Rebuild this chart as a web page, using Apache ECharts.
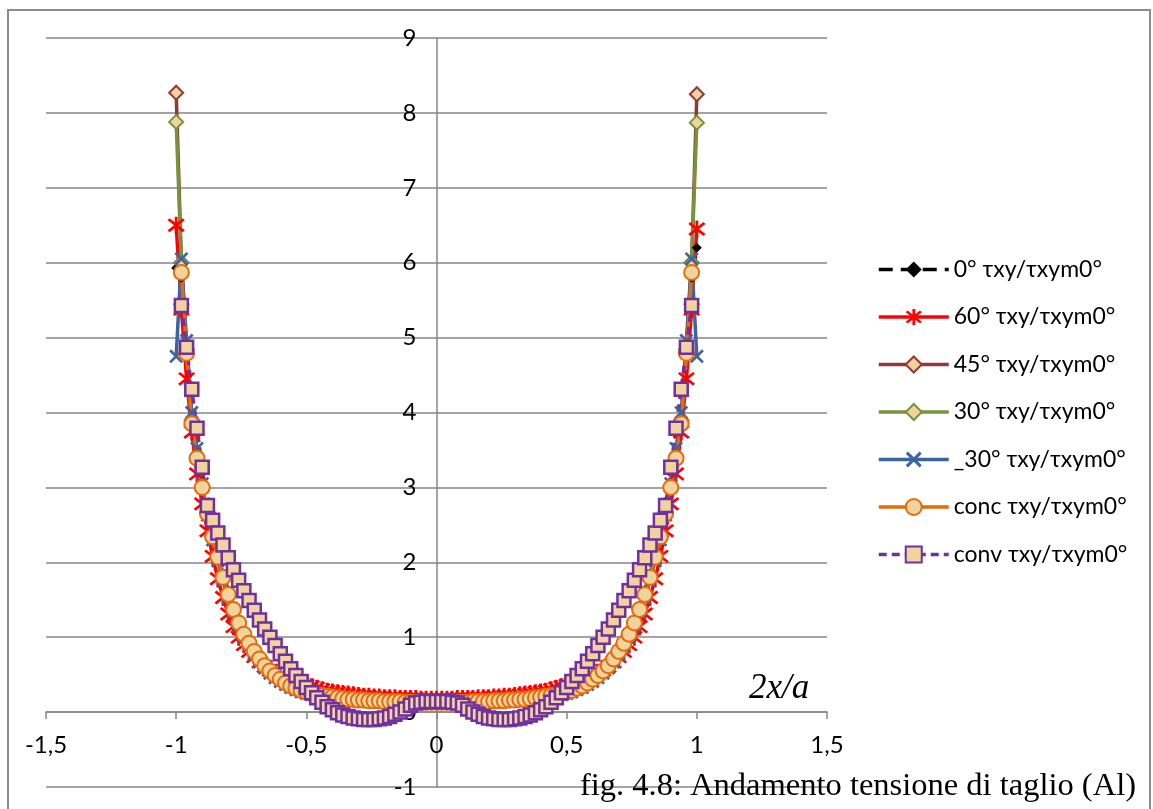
<!DOCTYPE html>
<html><head><meta charset="utf-8">
<script src="https://cdn.jsdelivr.net/npm/echarts@6/dist/echarts.min.js"></script>
<style>html,body{margin:0;padding:0;background:#fff}#c{width:1153px;height:809px}</style>
</head><body><div id="c"></div>
<script>
// x positions 2x/a
const X = [-1,-0.98,-0.96,-0.94,-0.92,-0.9,-0.88,-0.86,-0.84,-0.82,
-0.8,-0.78,-0.76,-0.74,-0.72,-0.7,-0.68,-0.66,-0.64,-0.62,
-0.6,-0.58,-0.56,-0.54,-0.52,-0.5,-0.48,-0.46,-0.44,-0.42,
-0.4,-0.38,-0.36,-0.34,-0.32,-0.3,-0.28,-0.26,-0.24,-0.22,
-0.2,-0.18,-0.16,-0.14,-0.12,-0.1,-0.08,-0.06,-0.04,-0.02,
0,
0.02,0.04,0.06,0.08,0.1,0.12,0.14,0.16,0.18,0.2,
0.22,0.24,0.26,0.28,0.3,0.32,0.34,0.36,0.38,0.4,
0.42,0.44,0.46,0.48,0.5,0.52,0.54,0.56,0.58,0.6,
0.62,0.64,0.66,0.68,0.7,0.72,0.74,0.76,0.78,0.8,
0.82,0.84,0.86,0.88,0.9,0.92,0.94,0.96,0.98,1];

const s0 = [5.93,5.80,4.75,3.84,3.38,2.99,2.64,2.33,2.06,1.79,
1.56,1.36,1.18,1.03,0.91,0.80,0.70,0.62,0.55,0.49,
0.44,0.39,0.35,0.32,0.29,0.27,0.25,0.23,0.22,0.21,
0.20,0.19,0.18,0.17,0.17,0.16,0.16,0.15,0.15,0.15,
0.14,0.14,0.14,0.14,0.13,0.13,0.13,0.13,0.13,0.13,
0.13,
0.13,0.13,0.13,0.13,0.13,0.13,0.14,0.14,0.14,0.14,
0.15,0.15,0.15,0.16,0.16,0.17,0.17,0.18,0.19,0.20,
0.21,0.22,0.23,0.25,0.27,0.29,0.32,0.35,0.39,0.44,
0.49,0.55,0.62,0.70,0.80,0.91,1.03,1.18,1.36,1.56,
1.79,2.06,2.33,2.64,2.99,3.38,3.84,4.75,5.80,6.20];

const s60 = [6.50,5.38,4.45,3.74,3.18,2.78,2.42,2.08,1.78,1.53,
1.31,1.14,1.00,0.90,0.81,0.74,0.67,0.61,0.56,0.52,
0.48,0.45,0.42,0.40,0.38,0.36,0.34,0.32,0.30,0.28,
0.27,0.26,0.25,0.24,0.23,0.22,0.21,0.21,0.20,0.20,
0.19,0.19,0.19,0.18,0.18,0.18,0.18,0.17,0.17,0.17,
0.17,
0.17,0.17,0.17,0.18,0.18,0.18,0.18,0.19,0.19,0.19,
0.20,0.20,0.21,0.21,0.22,0.23,0.24,0.25,0.26,0.27,
0.28,0.30,0.32,0.34,0.36,0.38,0.40,0.42,0.45,0.48,
0.52,0.56,0.61,0.67,0.74,0.81,0.90,1.00,1.14,1.31,
1.53,1.78,2.08,2.42,2.78,3.18,3.74,4.45,5.38,6.45];

const s45 = [8.27,6.00,4.85,3.90,3.42,3.02,2.66,2.35,2.08,1.81,
1.58,1.38,1.20,1.05,0.93,0.82,0.72,0.63,0.56,0.50,
0.45,0.40,0.36,0.33,0.30,0.28,0.26,0.24,0.23,0.22,
0.21,0.20,0.19,0.18,0.18,0.17,0.17,0.16,0.16,0.16,
0.15,0.15,0.15,0.15,0.14,0.14,0.14,0.14,0.14,0.14,
0.14,
0.14,0.14,0.14,0.14,0.14,0.14,0.15,0.15,0.15,0.15,
0.16,0.16,0.16,0.17,0.17,0.18,0.18,0.19,0.20,0.21,
0.22,0.23,0.24,0.26,0.28,0.30,0.33,0.36,0.40,0.45,
0.50,0.56,0.63,0.72,0.82,0.93,1.05,1.20,1.38,1.58,
1.81,2.08,2.35,2.66,3.02,3.42,3.90,4.85,6.00,8.25];

const s30 = [7.88,6.00,4.83,3.88,3.40,3.01,2.65,2.34,2.07,1.80,
1.57,1.37,1.19,1.04,0.92,0.81,0.71,0.62,0.55,0.49,
0.44,0.39,0.35,0.32,0.29,0.27,0.25,0.23,0.22,0.21,
0.20,0.19,0.18,0.17,0.17,0.16,0.16,0.15,0.15,0.15,
0.14,0.14,0.14,0.14,0.13,0.13,0.13,0.13,0.13,0.13,
0.13,
0.13,0.13,0.13,0.13,0.13,0.13,0.14,0.14,0.14,0.14,
0.15,0.15,0.15,0.16,0.16,0.17,0.17,0.18,0.19,0.20,
0.21,0.22,0.23,0.25,0.27,0.29,0.32,0.35,0.39,0.44,
0.49,0.55,0.62,0.71,0.81,0.92,1.04,1.19,1.37,1.57,
1.80,2.07,2.34,2.65,3.01,3.40,3.88,4.83,6.00,7.87];

const sM30 = [4.75,6.05,4.96,4.00,3.52,3.05,2.63,2.30,2.02,1.75,
1.52,1.33,1.15,1.00,0.88,0.77,0.67,0.59,0.52,0.46,
0.41,0.37,0.33,0.30,0.27,0.25,0.23,0.21,0.20,0.19,
0.18,0.17,0.16,0.16,0.15,0.15,0.14,0.14,0.14,0.14,
0.13,0.13,0.13,0.13,0.13,0.12,0.12,0.12,0.12,0.12,
0.12,
0.12,0.12,0.12,0.12,0.12,0.13,0.13,0.13,0.13,0.13,
0.14,0.14,0.14,0.14,0.15,0.15,0.16,0.16,0.17,0.18,
0.19,0.20,0.21,0.23,0.25,0.27,0.30,0.33,0.37,0.41,
0.46,0.52,0.59,0.67,0.77,0.88,1.00,1.15,1.33,1.52,
1.75,2.02,2.30,2.63,3.05,3.52,4.00,4.96,6.05,4.75];

const sConc = [null,5.87,4.79,3.85,3.39,3.00,2.65,2.34,2.07,1.80,
1.57,1.37,1.19,1.04,0.92,0.81,0.71,0.62,0.55,0.49,
0.44,0.39,0.35,0.32,0.29,0.27,0.25,0.23,0.22,0.21,
0.20,0.19,0.18,0.17,0.17,0.16,0.16,0.15,0.15,0.15,
0.14,0.14,0.14,0.14,0.13,0.13,0.13,0.13,0.13,0.13,
0.13,
0.13,0.13,0.13,0.13,0.13,0.13,0.14,0.14,0.14,0.14,
0.15,0.15,0.15,0.16,0.16,0.17,0.17,0.18,0.19,0.20,
0.21,0.22,0.23,0.25,0.27,0.29,0.32,0.35,0.39,0.44,
0.49,0.55,0.62,0.71,0.81,0.92,1.04,1.19,1.37,1.57,
1.80,2.07,2.34,2.65,3.00,3.39,3.85,4.79,5.87,null];

const sConv = [null,5.43,4.87,4.31,3.79,3.27,2.76,2.56,2.39,2.23,
2.06,1.90,1.76,1.62,1.49,1.36,1.23,1.11,1.00,0.89,
0.78,0.68,0.58,0.49,0.41,0.33,0.26,0.19,0.13,0.07,
0.03,-0.01,-0.04,-0.06,-0.08,-0.09,-0.10,-0.10,-0.10,-0.09,
-0.08,-0.06,-0.03,0.00,0.04,0.09,0.12,0.13,0.14,0.14,
0.14,
0.14,0.14,0.13,0.12,0.09,0.04,0.00,-0.03,-0.06,-0.08,
-0.09,-0.10,-0.10,-0.10,-0.09,-0.08,-0.06,-0.04,-0.01,0.03,
0.07,0.13,0.19,0.26,0.33,0.41,0.49,0.58,0.68,0.78,
0.89,1.00,1.11,1.23,1.36,1.49,1.62,1.76,1.90,2.06,
2.23,2.39,2.56,2.76,3.27,3.79,4.31,4.87,5.43,null];

const names = ['0° τxy/τxym0°','60° τxy/τxym0°','45° τxy/τxym0°','30° τxy/τxym0°','_30° τxy/τxym0°','conc τxy/τxym0°','conv τxy/τxym0°'];

const TAN = '#F1D39E';
const ASTER = 'path://M8.5,0L11.5,0L11.5,20L8.5,20Z M2.99,1.87L18.99,15.87L17.01,18.13L1.01,4.13Z M1.01,15.87L17.01,1.87L18.99,4.13L2.99,18.13Z';
const XMARK = 'path://M2.41,-0.41L20.41,17.59L17.59,20.41L-0.41,2.41Z M-0.41,17.59L17.59,-0.41L20.41,2.41L2.41,20.41Z';

function pairs(ys){ return X.map((x,i)=>[x, ys[i]]); }
function mk(name, ys, color, dash, symbol, size, fill, bw, lw){
  return {
    name, type:'line', data: pairs(ys), showAllSymbol:true, connectNulls:false,
    symbol, symbolSize:size,
    lineStyle:{color, width:lw||3.5, type:dash||'solid'},
    itemStyle:{color:fill, borderColor:color, borderWidth:bw},
    emphasis:{disabled:true}, z:2
  };
}

const series = [
  mk(names[0], s0, '#000000', [14,8], 'diamond', 10, '#000000', 0),
  mk(names[1], s60, '#FF0000', null, ASTER, 17, '#FF0000', 0),
  mk(names[2], s45, '#953735', null, 'diamond', 14, TAN, 2),
  mk(names[3], s30, '#77933C', null, 'diamond', 14, TAN, 2),
  mk(names[4], sM30, '#3B64A0', null, XMARK, 14, '#3B64A0', 0),
  mk(names[5], sConc, '#E46C0A', null, 'circle', 15, TAN, 2),
  mk(names[6], sConv, '#7030A0', [8,5], 'rect', 13, TAN, 2.5)
];

const GL = 46, GR = 326, GT = 38, GB = 22, W = 1153, H = 809;
const plotW = W - GL - GR, plotH = H - GT - GB;
const yMin = -1, yMax = 9, xMin = -1.5, xMax = 1.5;
const grey = '#868686';
const chart = echarts.init(document.getElementById('c'), null, {renderer:'canvas'});
chart.setOption({
  animation:false,
  backgroundColor:'#fff',
  grid:{left:GL, right:GR, top:GT, bottom:GB, containLabel:false},
  xAxis:{type:'value', min:xMin, max:xMax, interval:0.5, position:'bottom',
    offset: -plotH * (0 - yMin) / (yMax - yMin),
    axisLine:{onZero:false, lineStyle:{color:grey, width:1.5}},
    axisTick:{show:true, length:7, lineStyle:{color:grey, width:1.5}},
    axisLabel:{margin:21, fontFamily:'Lato', fontSize:24, color:'#000',
      formatter:v=>String(v).replace('.',',')},
    splitLine:{show:false}},
  yAxis:{type:'value', min:yMin, max:yMax, interval:1, position:'left',
    offset: -plotW * (0 - xMin) / (xMax - xMin),
    axisLine:{show:true, onZero:false, lineStyle:{color:grey, width:1.5}},
    axisTick:{show:false},
    axisLabel:{margin:20, fontFamily:'Lato', fontSize:24, color:'#000'},
    splitLine:{show:true, lineStyle:{color:grey, width:1.5}}},
  legend:{orient:'vertical', left:877, top:258, padding:0, itemWidth:70, itemHeight:20, itemGap:24.5,
    lineStyle:{width:3.5},
    data:names, textStyle:{fontFamily:'Lato', fontSize:23, color:'#000', lineHeight:20}},
  series,
  graphic:[
    {type:'rect', shape:{x:8, y:10, width:1142, height:830}, style:{fill:'none', stroke:'#8c8c8c', lineWidth:2}, silent:true, z:0},
    {type:'text', left:749, top:671, style:{text:'2x/a', font:'italic 35px "Liberation Serif"', fill:'#000'}, z:10},
    {type:'text', left:580, top:770, style:{text:'fig. 4.8: Andamento tensione di taglio (Al)', font:'32.5px "Liberation Serif"', fill:'#000'}, z:10}
  ]
});
</script></body></html>
